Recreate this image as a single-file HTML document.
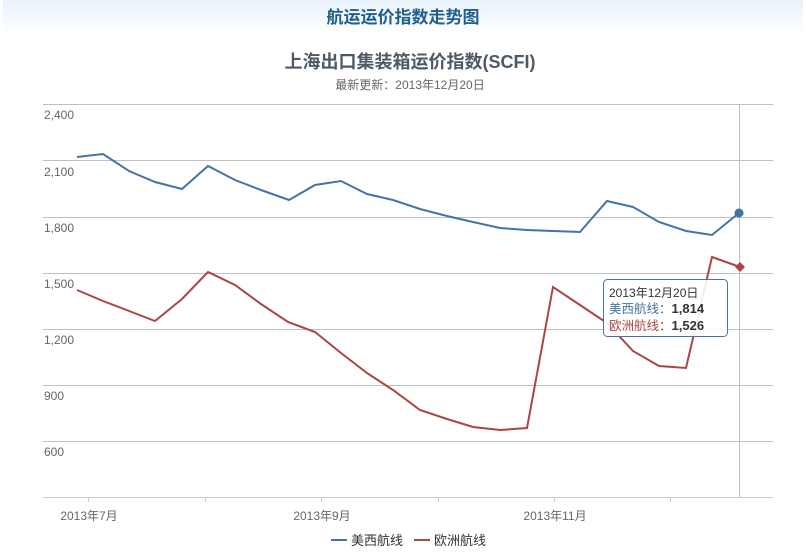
<!DOCTYPE html>
<html><head><meta charset="utf-8"><style>
body{margin:0;width:806px;height:553px;background:#fff;overflow:hidden;font-family:"Liberation Sans","Noto Sans CJK SC",sans-serif}
.bar{position:absolute;left:3px;top:0;width:800px;height:34px;background:linear-gradient(#e8f2fb,#f6fafd 60%,#fff);text-align:center;line-height:36px;font-size:17px;color:#1f5f8e;font-weight:bold}
</style></head><body>
<div class="bar">航运运价指数走势图</div>
<svg style="position:absolute;left:0;top:0" width="806" height="553" font-family="Liberation Sans, Noto Sans CJK SC, sans-serif">
<text x="410" y="68" text-anchor="middle" font-size="18" font-weight="bold" fill="#4d5a66">上海出口集装箱运价指数(SCFI)</text>
<text x="410" y="89" text-anchor="middle" font-size="12" fill="#666">最新更新：2013年12月20日</text>
<g stroke="#c0c0c0" stroke-width="1">
<line x1="43" y1="104.5" x2="773" y2="104.5"/><line x1="43" y1="160.5" x2="773" y2="160.5"/><line x1="43" y1="217.5" x2="773" y2="217.5"/><line x1="43" y1="273.5" x2="773" y2="273.5"/><line x1="43" y1="329.5" x2="773" y2="329.5"/><line x1="43" y1="385.5" x2="773" y2="385.5"/><line x1="43" y1="441.5" x2="773" y2="441.5"/>
</g>
<line x1="43" y1="497.5" x2="773" y2="497.5" stroke="#c0d0e0"/>
<g stroke="#c0d0e0"><line x1="88.5" y1="497" x2="88.5" y2="502"/><line x1="205.5" y1="497" x2="205.5" y2="502"/><line x1="321.5" y1="497" x2="321.5" y2="502"/><line x1="438.5" y1="497" x2="438.5" y2="502"/><line x1="554.5" y1="497" x2="554.5" y2="502"/><line x1="670.5" y1="497" x2="670.5" y2="502"/></g>
<line x1="739.5" y1="104" x2="739.5" y2="497" stroke="#c0c0c0"/>
<g font-size="12" fill="#666">
<text x="44" y="119">2,400</text><text x="44" y="176">2,100</text><text x="44" y="232">1,800</text><text x="44" y="288">1,500</text><text x="44" y="344">1,200</text><text x="44" y="400">900</text><text x="44" y="456">600</text>
<text x="89" y="520" text-anchor="middle">2013年7月</text><text x="322" y="520" text-anchor="middle">2013年9月</text><text x="555" y="520" text-anchor="middle">2013年11月</text>
</g>
<polyline fill="none" stroke="#4572A7" stroke-width="2" points="77,157 103,154 129,171 155,182 182,189 208,166 235,180 261,190 289,200 315,185 341,181 367,194 393,200 420,209 447,216 473,222 500,228 527,230 553,231 580,232 607,201 633,207 659,222 686,231 712,235 739,213"/>
<polyline fill="none" stroke="#AA4643" stroke-width="2" points="77,290 103,301 129,311 155,321 182,299 208,272 235,285 261,304 288,322 315,332 341,353 367,373 393,390 420,410 447,419 473,427 500,430 527,428 553,287 580,305 607,323 633,351 659,366 686,368 712,257 740,267"/>
<circle cx="739" cy="213" r="4.5" fill="#4572A7"/>
<path d="M740,262 L745,267 L740,272 L735,267Z" fill="#AA4643"/>
<rect x="603.5" y="279.5" width="124" height="57" rx="4" fill="#fff" fill-opacity="0.9" stroke="#4572A7"/>
<text x="609" y="297" font-size="12" fill="#333">2013年12月20日</text>
<text x="609" y="313" font-size="12.5" fill="#4572A7">美西航线：<tspan fill="#333" font-weight="bold" font-size="13">1,814</tspan></text>
<text x="609" y="330" font-size="12.5" fill="#AA4643">欧洲航线：<tspan fill="#333" font-weight="bold" font-size="13">1,526</tspan></text>
<line x1="331" y1="540" x2="347" y2="540" stroke="#4572A7" stroke-width="2"/>
<text x="351" y="545" font-size="13" fill="#333">美西航线</text>
<line x1="414" y1="540" x2="430" y2="540" stroke="#AA4643" stroke-width="2"/>
<text x="434" y="545" font-size="13" fill="#333">欧洲航线</text>
</svg>
</body></html>
